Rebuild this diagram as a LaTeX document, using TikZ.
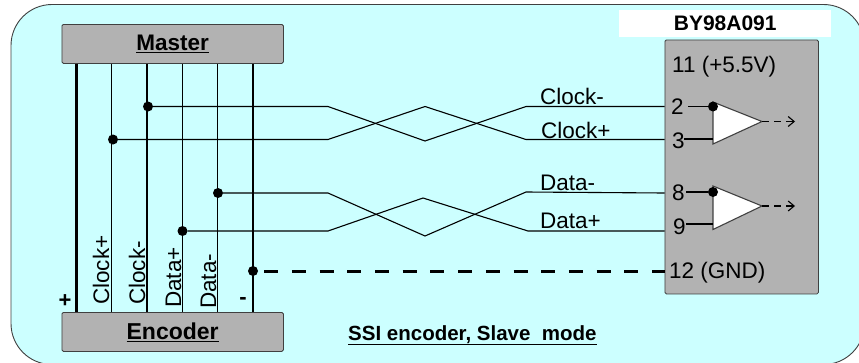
\documentclass[tikz,border=0pt]{standalone}
\usepackage{fontspec}
\setmainfont{Liberation Sans}
\usetikzlibrary{arrows.meta}
\definecolor{panelcyan}{HTML}{CCFFFF}
\definecolor{boxgrey}{HTML}{B2B2B2}
\definecolor{edgegrey}{HTML}{404040}
\tikzset{
    greybox/.style={draw=edgegrey,fill=boxgrey,rounded corners=1.5pt,line width=0.8pt,anchor=north west,inner sep=0pt},
    dotnode/.style={circle,fill=black,inner sep=0pt,minimum size=10pt},
    wire/.style={line width=1.1pt},
    railwire/.style={line width=2.6pt},
    lbl/.style={font=\fontsize{22.5}{24}\selectfont,inner sep=0pt,anchor=base west},
    rotlbl/.style={lbl,rotate=90},
    amp/.style={draw=edgegrey,fill=white,line width=1.1pt,line join=miter},
    outwire/.style={wire,dash pattern=on 7pt off 5pt,-{Straight Barb[length=6pt,width=10pt]}}
}
\begin{document}
\begin{tikzpicture}[x=1pt,y=-1pt]
    \useasboundingbox (0,0) rectangle (859,362);
    \clip (0,0) rectangle (859,362);

    % background panel
    \draw[draw=edgegrey,fill=panelcyan,line width=0.9pt,rounded corners=41pt] (11,4.5) rectangle (864.5,364.5);

    % boxes
    \node[greybox,minimum width=221.5pt,minimum height=39pt] (master) at (61.5,24) {};
    \node[greybox,minimum width=221.5pt,minimum height=39pt] (encoder) at (61.5,312) {};
    \node[greybox,minimum width=153.5pt,minimum height=254pt] (chip) at (664.5,39.5) {};
    \node[fill=white,inner sep=0pt,anchor=north west,minimum width=212pt,minimum height=26.5pt] (chiptitle) at (619,10) {};

    \node[font=\fontsize{22.5}{24}\selectfont\bfseries] at (master.center) {\underline{Master}};
    \node[font=\fontsize{23}{24}\selectfont\bfseries] at (encoder.center) {\underline{Encoder}};
    \node[font=\fontsize{21}{24}\selectfont\bfseries] at (chiptitle.center) {BY98A091};
    \node[font=\fontsize{20.5}{24}\selectfont\bfseries,inner sep=0pt,anchor=base west] at (348,340) {\underline{SSI encoder, Slave\ \ mode}};

    % vertical wires
    \foreach \name/\x/\w in {pos/76.5/railwire,clkp/111.5/wire,clkm/147/wire,datp/182.5/wire,datm/217.5/wire,neg/253/railwire} {
        \coordinate (\name) at (\x,0);
        \draw[\w] (\name |- master.south) -- (\name |- encoder.north);
    }

    % junctions
    \node[dotnode] (dclkm) at (148,106.5) {};
    \node[dotnode] (dclkp) at (113,139.5) {};
    \node[dotnode] (ddatm) at (218,193) {};
    \node[dotnode] (ddatp) at (182.5,231) {};
    \node[dotnode] (dgnd) at (253,271) {};

    % twisted pairs
    \draw[wire] (dclkm) -- (328,106.5) -- (425,141) -- (526,106.5) -- (chip.west |- dclkm);
    \draw[wire] (dclkp) -- (328,139.5) -- (425,106.5) -- (526,139.5) -- (chip.west |- dclkp);
    \draw[wire] (ddatm) -- (328,193) -- (425,236) -- (526,192) -- (chip.west |- ddatm);
    \draw[wire] (ddatp) -- (328,231) -- (423,198) -- (528,231) -- (chip.west |- ddatp);
    \draw[line width=3pt,dash pattern=on 14pt off 13.7pt,dash phase=21.7pt] (dgnd) -- (chip.west |- dgnd);

    % wire labels
    \node[lbl] at (540,104) {Clock-};
    \node[lbl] at (541,138) {Clock+};
    \node[lbl] at (540,190) {Data-};
    \node[lbl] at (540,228) {Data+};
    \node[rotlbl] at (109,305) {Clock+};
    \node[rotlbl] at (145,305) {Clock-};
    \node[rotlbl] at (181,308) {Data+};
    \node[rotlbl] at (216,309) {Data-};
    \node[font=\fontsize{22}{24}\selectfont\bfseries] at (65,301) {+};
    \node[font=\fontsize{22}{24}\selectfont\bfseries] at (243,301) {-};

    % pins
    \node[lbl] at (672,72) {11 (+5.5V)};
    \node[lbl] (pintwo) at (671,114) {2};
    \node[lbl] (pinthree) at (672,148) {3};
    \node[lbl] (pineight) at (672,200) {8};
    \node[lbl] (pinnine) at (673,234) {9};
    \node[lbl] at (669,278) {12 (GND)};

    % amplifiers
    \draw[amp] (713,102) coordinate (ampa) -- (762,121.5) coordinate (tipa) -- (713,144) -- cycle;
    \draw[amp] (713,186) coordinate (ampb) -- (762,206) coordinate (tipb) -- (713,229.5) -- cycle;
    \node[dotnode] (dampa) at (713,106.5) {};
    \node[dotnode] (dampb) at (713,192) {};
    \draw[wire] (688,106.5) -- (dampa);
    \draw[wire] (684,139) -- (713,139);
    \draw[wire] (686,192) -- (dampb);
    \draw[wire] (686,224) -- (713,224);
    \draw[outwire] (tipa) -- (795,121.5);
    \draw[outwire] (tipb) -- (795,206);
\end{tikzpicture}
\end{document}
